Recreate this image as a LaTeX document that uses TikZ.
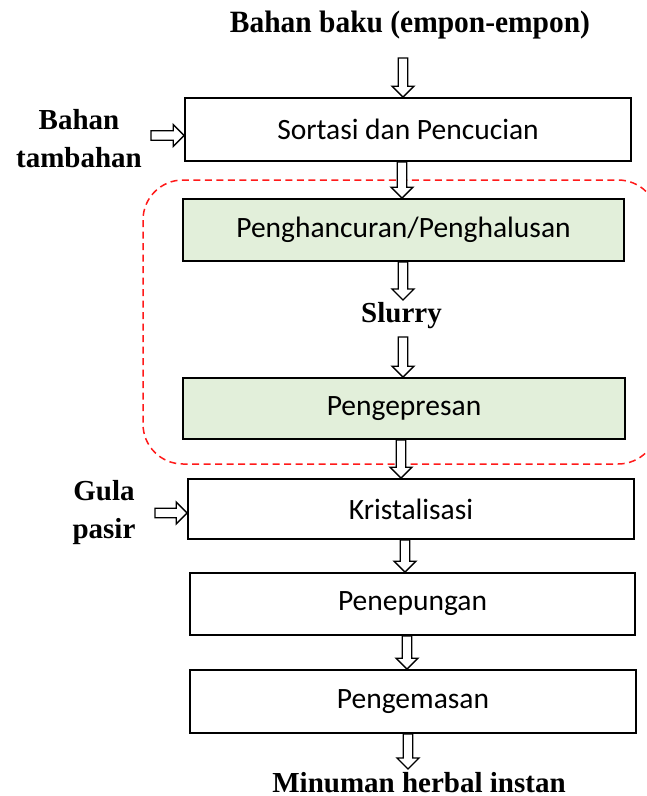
\documentclass[tikz,border=0pt]{standalone}
\usepackage{fontspec}
\setmainfont{Liberation Serif}
\newfontfamily\boxfont{Carlito}
\newfontfamily\titlefont[FakeStretch=0.95]{Liberation Serif}
\usetikzlibrary{calc}
\definecolor{boxgreen}{HTML}{E2EFDA}
\definecolor{dashred}{HTML}{FF1A1A}
\tikzset{
  procbox/.style={draw=black, line width=1.7pt, minimum width=#1, minimum height=62pt,
    inner sep=0pt, font=\boxfont\fontsize{29.5}{34}\selectfont},
  greenbox/.style={fill=boxgreen},
  lbl/.style={font=\bfseries\fontsize{29}{38}\selectfont, inner sep=0pt, align=center},
  arrowline/.style={draw=black, line width=1.3pt, fill=white, line join=miter},
  groupline/.style={draw=dashred, line width=1.5pt, dash pattern=on 7pt off 4.5pt, rounded corners=40pt},
}
\newcommand\barrow[2]{%
  \path[arrowline] let \p1=(#1), \p2=(#2), \n1={atan2(\y2-\y1,\x2-\x1)} in
    ($(\p1)+(\n1+90:4.8pt)$)
    -- ($(\p2)+(\n1+180:11pt)+(\n1+90:4.8pt)$)
    -- ($(\p2)+(\n1+180:11pt)+(\n1+90:11pt)$)
    -- (\p2)
    -- ($(\p2)+(\n1+180:11pt)+(\n1-90:11pt)$)
    -- ($(\p2)+(\n1+180:11pt)+(\n1-90:4.8pt)$)
    -- ($(\p1)+(\n1-90:4.8pt)$) -- cycle;}
\begin{document}
\begin{tikzpicture}[x=1pt,y=-1pt]
  \useasboundingbox (0,0) rectangle (647,796);
  \fill[white] (0,0) rectangle (647,796);

  % dashed group
  \draw[groupline] (143,180) rectangle (658,464);

  % process boxes
  \node[procbox=446pt, minimum height=63pt] (s1) at (408,129.5) {Sortasi dan Pencucian};
  \node[procbox=441pt, greenbox] (s2) at (403.5,230) {Penghancuran/Penghalusan};
  \node[procbox=442pt, greenbox, minimum height=61pt] (s3) at (404,408.5) {Pengepresan};
  \node[procbox=446pt, minimum height=60pt] (s4) at (411,509) {Kristalisasi};
  \node[procbox=445pt] (s5) at (412.5,604) {Penepungan};
  \node[procbox=446pt, minimum height=63pt] (s6) at (413,701.5) {Pengemasan};

  % labels
  \node[lbl, font=\titlefont\bfseries\fontsize{31}{38}\selectfont, anchor=base] (title) at (410,32) {Bahan baku (empon-empon)};
  \node[lbl, anchor=north] (tamb) at (79,109) {Bahan\\tambahan};
  \node[lbl, anchor=base] (slurry) at (401.5,322) {Slurry};
  \node[lbl, anchor=north] (gula) at (104,480) {Gula\\pasir};
  \node[lbl, anchor=base] (out) at (419,792) {Minuman herbal instan};

  % arrow columns / free ends
  \coordinate (t0) at (403,58);
  \coordinate (c1) at (402,0);
  \coordinate (sl1) at (403,300);
  \coordinate (sl2) at (403,337);
  \coordinate (c3) at (401,0);
  \coordinate (c4) at (405,0);
  \coordinate (c5) at (407,0);
  \coordinate (c6) at (408,0);
  \coordinate (e0) at (408,769);
  \coordinate (h1) at (151,135.5);
  \coordinate (h2) at (155,513);

  % connectors
  \barrow{t0}{s1.north -| t0}
  \barrow{s1.south -| c1}{s2.north -| c1}
  \barrow{s2.south -| sl1}{sl1}
  \barrow{sl2}{s3.north -| sl2}
  \barrow{s3.south -| c3}{s4.north -| c3}
  \barrow{s4.south -| c4}{s5.north -| c4}
  \barrow{s5.south -| c5}{s6.north -| c5}
  \barrow{s6.south -| e0}{e0}
  \barrow{h1}{s1.west |- h1}
  \barrow{h2}{s4.west |- h2}
\end{tikzpicture}
\end{document}
